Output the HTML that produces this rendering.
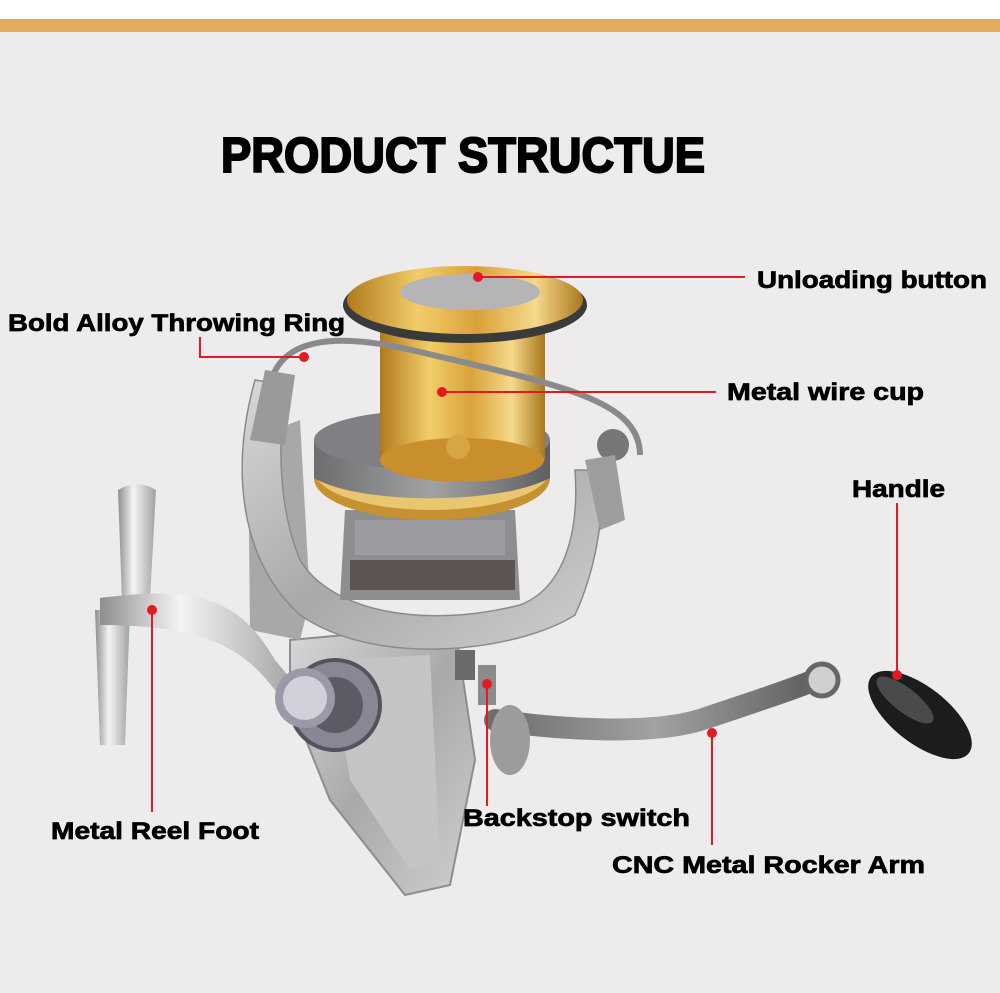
<!DOCTYPE html>
<html><head><meta charset="utf-8"><style>
html,body{margin:0;padding:0;width:1000px;height:993px;overflow:hidden;background:#edebec}
svg{display:block}
text{font-family:"Liberation Sans",sans-serif;font-weight:bold;fill:#000;stroke:#000;stroke-width:0.7}
</style></head><body>
<svg width="1000" height="993" viewBox="0 0 1000 993">
<defs>
<linearGradient id="gold" x1="0" x2="1" y1="0" y2="0">
<stop offset="0" stop-color="#b07a1c"/><stop offset="0.3" stop-color="#f2cd6a"/><stop offset="0.55" stop-color="#d9a23a"/><stop offset="0.8" stop-color="#f6d98a"/><stop offset="1" stop-color="#a8761e"/></linearGradient>
<linearGradient id="silver" x1="0" x2="1" y1="0" y2="1">
<stop offset="0" stop-color="#d8d8da"/><stop offset="0.5" stop-color="#a9a9ab"/><stop offset="1" stop-color="#cfcfd1"/></linearGradient>
<linearGradient id="chrome" x1="0" x2="1">
<stop offset="0" stop-color="#8e8e90"/><stop offset="0.4" stop-color="#f4f4f4"/><stop offset="1" stop-color="#a0a0a2"/></linearGradient>
<linearGradient id="dark" x1="0" x2="1">
<stop offset="0" stop-color="#6d6d70"/><stop offset="0.5" stop-color="#a2a2a5"/><stop offset="1" stop-color="#5f5f62"/></linearGradient>
</defs>
<rect x="0" y="0" width="1000" height="19" fill="#fff"/>
<rect x="0" y="19" width="1000" height="13" fill="#e4ad5d"/>

<text x="221" y="172" font-size="49" textLength="484" lengthAdjust="spacingAndGlyphs" style="stroke-width:2">PRODUCT  STRUCTUE</text>

<!-- reel body / foot -->
<path d="M290,640 L455,625 L475,760 L450,885 L405,895 L330,800 L290,700 Z" fill="url(#silver)" stroke="#8d8d90" stroke-width="2"/>
<path d="M330,660 L430,655 L440,860 L410,870 L350,780 Z" fill="#c4c4c6"/>
<path d="M248,440 L300,420 L310,600 L300,640 L250,630 Z" fill="#a8a8ab"/>
<path d="M255,380 C230,470 240,560 300,615 C380,670 520,650 575,615 C600,560 605,500 600,470 L575,470 C580,540 560,590 520,605 C420,630 330,610 300,560 C275,500 280,430 285,385 Z" fill="url(#silver)" stroke="#8a8a8d" stroke-width="1.5"/>
<path d="M345,510 L515,510 L520,600 L340,600 Z" fill="#8e8e91"/>
<rect x="350" y="560" width="165" height="30" fill="#5b5452"/>
<rect x="355" y="520" width="150" height="35" fill="#9c9ca0"/>
<ellipse cx="432" cy="478" rx="118" ry="42" fill="#c69130"/>
<ellipse cx="432" cy="470" rx="118" ry="40" fill="#e8c770"/>
<path d="M314,440 L550,440 L550,478 C500,505 360,505 314,478 Z" fill="url(#dark)"/>
<ellipse cx="432" cy="440" rx="118" ry="30" fill="#808084"/>
<rect x="380" y="310" width="165" height="150" fill="url(#gold)"/>
<ellipse cx="462" cy="460" rx="82" ry="22" fill="#c98f2c"/>
<circle cx="458" cy="447" r="12" fill="#d8a545"/>
<ellipse cx="465" cy="305" rx="122" ry="38" fill="#3a3a3a"/>
<ellipse cx="465" cy="300" rx="118" ry="34" fill="url(#gold)"/>
<ellipse cx="470" cy="292" rx="70" ry="18" fill="#b5b5b8"/>
<path d="M270,385 C280,340 330,330 420,352 C560,385 640,400 640,455" fill="none" stroke="#8a8a8c" stroke-width="6"/>
<path d="M265,370 L250,440 L285,445 L295,375 Z" fill="#9a9a9d"/>
<circle cx="613" cy="445" r="16" fill="#777"/>
<path d="M585,460 L615,455 L625,520 L600,530 Z" fill="#9d9da0"/>
<path d="M118,490 Q137,478 156,490 L150,600 L122,600 Z" fill="url(#chrome)"/>
<path d="M95,610 L130,610 L125,745 L100,745 Z" fill="url(#chrome)"/>
<path d="M100,598 C200,585 240,600 275,660 L300,690 L285,705 C250,650 210,625 100,625 Z" fill="url(#chrome)"/>
<circle cx="335" cy="705" r="45" fill="#8a8694" stroke="#55525c" stroke-width="4"/>
<circle cx="335" cy="705" r="28" fill="#5d5a66"/>
<circle cx="305" cy="698" r="30" fill="#9c98a8"/>
<circle cx="305" cy="698" r="22" fill="#d2d0da"/>
<rect x="455" y="650" width="20" height="30" fill="#6a6a6c"/>
<rect x="478" y="665" width="18" height="40" fill="#8b8b8e"/>
<path d="M495,720 C560,730 650,735 700,720 C760,700 790,690 815,680" fill="none" stroke="url(#dark)" stroke-width="22" stroke-linecap="round"/>
<ellipse cx="510" cy="740" rx="20" ry="35" fill="#9c9c9f"/>
<circle cx="822" cy="680" r="16" fill="#d0d0d2" stroke="#666" stroke-width="5"/>
<ellipse cx="920" cy="715" rx="62" ry="28" transform="rotate(38 920 715)" fill="#1c1c1e"/>
<ellipse cx="905" cy="700" rx="35" ry="12" transform="rotate(38 905 700)" fill="#4a4a4d"/>

<g stroke="#e21a22" stroke-width="2" fill="none">
<path d="M478,277 H745"/>
<path d="M200,337 V357 H304"/>
<path d="M442,392 H716"/>
<path d="M897,503 V675"/>
<path d="M152,610 V812"/>
<path d="M487,684 V806"/>
<path d="M712,733 V845"/>
</g>
<g fill="#e21a22">
<circle cx="478" cy="277" r="5"/><circle cx="304" cy="357" r="5"/><circle cx="442" cy="392" r="5"/>
<circle cx="897" cy="675" r="5"/><circle cx="152" cy="610" r="5"/><circle cx="487" cy="684" r="5"/><circle cx="712" cy="733" r="5"/>
</g>

<text x="757" y="288" font-size="24" textLength="230" lengthAdjust="spacingAndGlyphs">Unloading button</text>
<text x="8" y="331" font-size="24" textLength="337" lengthAdjust="spacingAndGlyphs">Bold Alloy Throwing Ring</text>
<text x="727" y="400" font-size="24" textLength="197" lengthAdjust="spacingAndGlyphs">Metal wire cup</text>
<text x="852" y="497" font-size="24" textLength="93" lengthAdjust="spacingAndGlyphs">Handle</text>
<text x="51" y="839" font-size="24" textLength="208" lengthAdjust="spacingAndGlyphs">Metal Reel Foot</text>
<text x="463" y="826" font-size="24" textLength="227" lengthAdjust="spacingAndGlyphs">Backstop switch</text>
<text x="612" y="873" font-size="24" textLength="313" lengthAdjust="spacingAndGlyphs">CNC Metal Rocker Arm</text>
</svg>
</body></html>
